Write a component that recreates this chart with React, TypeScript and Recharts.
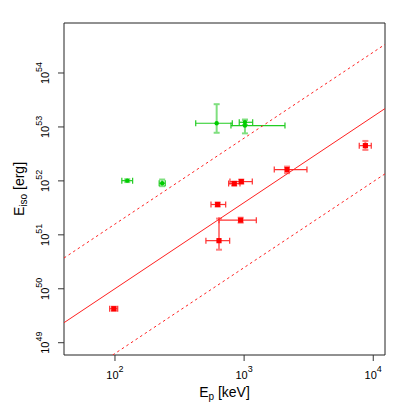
import { ScatterChart, Scatter, XAxis, YAxis, ErrorBar, ReferenceArea } from 'recharts';

// plot limits (log axes)
const X_MIN = 40.3;
const X_MAX = 12330;
const Y_MIN = 5.92e48;
const Y_MAX = 8.45e54;

const xTicks = [100, 1000, 10000];
const yTicks = [1e49, 1e50, 1e51, 1e52, 1e53, 1e54];

// red sample
const redEp = [98, 8690, 2150, 951, 839, 624, 940, 639];
const redEpLo = [91, 7790, 1712, 777, 759, 554, 639, 506];
const redEpHi = [105, 9650, 3066, 1157, 929, 720, 1243, 773];
const redEiso = [4.27e49, 4.5e52, 1.62e52, 9.7e51, 8.9e51, 3.65e51, 1.87e51, 7.8e50];
const redEisoLo = [3.9e49, 3.75e52, 1.39e52, 8.9e51, 8.2e51, 3.35e51, 1.68e51, 5.3e50];
const redEisoHi = [4.65e49, 5.5e52, 1.84e52, 1.06e52, 9.7e51, 3.97e51, 2.08e51, 2.0e51];

// green sample
const greenEp = [613, 1015, 1015, 124.5, 232];
const greenEpLo = [422, 917, 791, 113, 220];
const greenEpHi = [810, 1165, 2072, 137, 245];
const greenEiso = [1.17e53, 1.22e53, 1.06e53, 1.01e52, 9.06e51];
const greenEisoLo = [7.8e52, 1.09e53, 7.6e52, 9.5e51, 7.98e51];
const greenEisoHi = [2.64e53, 1.37e53, 1.35e53, 1.075e52, 1.06e52];

// best fit and its +/- band
const fitEp = [40.3, 12330];
const fitEiso = [2.35e49, 2.19e53];
const upperEiso = [3.72e50, 3.39e54];
const lowerEp = [96, 12330];
const lowerEiso = [5.92e48, 1.35e52];

const FONT = '"Liberation Sans", Arial, Helvetica, sans-serif';

const makePoints = (x: number[], xlo: number[], xhi: number[], y: number[], ylo: number[], yhi: number[]) =>
  x.map((v, i) => ({
    x: v,
    y: y[i],
    ex: [v - xlo[i], xhi[i] - v],
    ey: [y[i] - ylo[i], yhi[i] - y[i]],
  }));

const redData = makePoints(redEp, redEpLo, redEpHi, redEiso, redEisoLo, redEisoHi);
const greenData = makePoints(greenEp, greenEpLo, greenEpHi, greenEiso, greenEisoLo, greenEisoHi);
const midLine = fitEp.map((x, i) => ({ x, y: fitEiso[i] }));
const upLine = fitEp.map((x, i) => ({ x, y: upperEiso[i] }));
const lowLine = lowerEp.map((x, i) => ({ x, y: lowerEiso[i] }));

const XTick = (props: any) => {
  const { x, y, payload } = props;
  const exp = Math.round(Math.log10(payload.value));
  return (
    <text x={x} y={y + 18} textAnchor="middle" fontSize={11} fontFamily={FONT} fill="#000">
      10<tspan dy={-7} fontSize={9}>{exp}</tspan>
    </text>
  );
};

const YTick = (props: any) => {
  const { x, y, payload } = props;
  const exp = Math.round(Math.log10(payload.value));
  return (
    <text transform={`translate(${x - 8.7},${y}) rotate(-90)`} textAnchor="middle" fontSize={11} fontFamily={FONT} fill="#000">
      10<tspan dy={-7} fontSize={9}>{exp}</tspan>
    </text>
  );
};

const RedSquare = (props: any) => (
  <rect x={props.cx - 2.6} y={props.cy - 2.6} width={5.2} height={5.2} fill="#ff0000" />
);

const GreenDot = (props: any) => <circle cx={props.cx} cy={props.cy} r={2.2} fill="#00cc00" />;

const NoShape = () => <g />;

export default function App() {
  return (
    <div style={{ position: 'absolute', left: 0, top: 0, width: 409, height: 408, background: '#fff' }}>
      <ScatterChart width={409} height={408} margin={{ top: 23, right: 24, bottom: 0, left: 0 }}>
        <XAxis
          type="number"
          dataKey="x"
          scale="log"
          domain={[X_MIN, X_MAX]}
          allowDataOverflow
          ticks={xTicks}
          interval={0}
          tick={<XTick />}
          tickSize={6}
          tickMargin={0}
          axisLine={false}
          stroke="#333"
          height={53}
        />
        <YAxis
          type="number"
          dataKey="y"
          scale="log"
          domain={[Y_MIN, Y_MAX]}
          allowDataOverflow
          ticks={yTicks}
          interval={0}
          tick={<YTick />}
          tickSize={6}
          tickMargin={0}
          axisLine={false}
          stroke="#333"
          width={64}
        />
        <Scatter data={midLine} line={{ stroke: '#ff2020', strokeWidth: 1 }} shape={NoShape} isAnimationActive={false} />
        <Scatter data={upLine} line={{ stroke: '#ff2020', strokeWidth: 1, strokeDasharray: '2.5 3' }} shape={NoShape} isAnimationActive={false} />
        <Scatter data={lowLine} line={{ stroke: '#ff2020', strokeWidth: 1, strokeDasharray: '2.5 3' }} shape={NoShape} isAnimationActive={false} />
        <Scatter data={greenData} shape={GreenDot} isAnimationActive={false}>
          <ErrorBar dataKey="ey" direction="y" width={3} stroke="#7fdf7f" strokeWidth={2} isAnimationActive={false} />
          <ErrorBar dataKey="ex" direction="x" width={3} stroke="#22cc22" strokeWidth={1.2} isAnimationActive={false} />
        </Scatter>
        <Scatter data={redData} shape={RedSquare} isAnimationActive={false}>
          <ErrorBar dataKey="ey" direction="y" width={3} stroke="#ff7f7f" strokeWidth={2} isAnimationActive={false} />
          <ErrorBar dataKey="ex" direction="x" width={3} stroke="#ff3030" strokeWidth={1.2} isAnimationActive={false} />
        </Scatter>
        <ReferenceArea x1={X_MIN} x2={X_MAX} y1={Y_MIN} y2={Y_MAX} fill="none" stroke="#222" strokeWidth={1} />
      </ScatterChart>
      <svg width={409} height={408} style={{ position: 'absolute', left: 0, top: 0, pointerEvents: 'none' }}>
        <text x={224.5} y={396.7} textAnchor="middle" fontSize={14} fontFamily={FONT} fill="#000">
          E<tspan dy={3} fontSize={10}>p</tspan><tspan dy={-3}> [keV]</tspan>
        </text>
        <text transform="translate(23.5,189) rotate(-90)" textAnchor="middle" fontSize={14} fontFamily={FONT} fill="#000">
          E<tspan dy={3} fontSize={10}>iso</tspan><tspan dy={-3}> [erg]</tspan>
        </text>
      </svg>
    </div>
  );
}
